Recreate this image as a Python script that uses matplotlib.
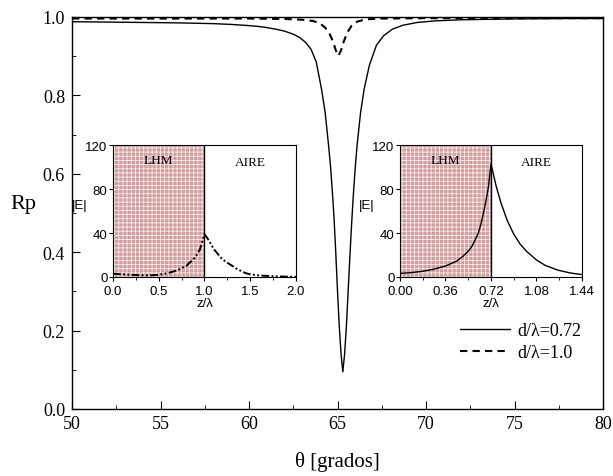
import numpy as np
import matplotlib
matplotlib.use("Agg")
import matplotlib.pyplot as plt
from matplotlib.ticker import MultipleLocator

# Main curves: Rp vs theta
theta_s = [50, 52, 54, 56, 58, 59, 60, 60.5, 61, 61.5, 62, 62.5, 62.85, 63.2, 63.5, 63.8, 64.1, 64.3, 64.5,
           64.6, 64.7, 64.8, 64.9, 65.0, 65.1, 65.2, 65.3, 65.4, 65.5, 65.6, 65.7, 65.8, 65.9, 66.0, 66.1,
           66.3, 66.5, 66.8, 67.2, 67.6, 68.1, 68.7, 69.5, 70.5, 72, 75, 78, 80]
rp_s = [0.988, 0.987, 0.986, 0.985, 0.983, 0.981, 0.978, 0.976, 0.973, 0.969, 0.964, 0.956, 0.948, 0.935,
        0.918, 0.885, 0.815, 0.757, 0.67, 0.622, 0.56, 0.49, 0.40, 0.30, 0.21, 0.14, 0.095, 0.14, 0.21,
        0.30, 0.39, 0.475, 0.55, 0.615, 0.67, 0.755, 0.815, 0.877, 0.928, 0.952, 0.969, 0.979, 0.986,
        0.99, 0.993, 0.995, 0.996, 0.996]

theta_d = [50, 60, 62, 63, 63.6, 64.0, 64.3, 64.55, 64.75, 64.9, 65.05, 65.2, 65.35, 65.55, 65.8, 66.1,
           66.6, 67.5, 70, 80]
rp_d = [0.996, 0.996, 0.995, 0.993, 0.99, 0.984, 0.973, 0.957, 0.937, 0.915, 0.901, 0.915, 0.937, 0.96,
        0.978, 0.988, 0.994, 0.996, 0.997, 0.997]

# Inset 1 (d/lambda = 1.0)
z1 = [0.0, 0.1, 0.2, 0.3, 0.4, 0.5, 0.6, 0.7, 0.8, 0.9, 0.95, 1.0, 1.05, 1.1, 1.19, 1.25, 1.356, 1.45,
      1.5, 1.6, 1.75, 1.9, 2.0]
e1 = [3.0, 2.5, 2.0, 1.6, 1.5, 2.0, 3.5, 6.0, 10.0, 18.0, 25.0, 39.0, 33.0, 25.6, 16.5, 13.0, 7.3, 3.5,
      2.4, 1.4, 0.7, 0.3, 0.2]

# Inset 2 (d/lambda = 0.72)
z2 = [0.0, 0.09, 0.18, 0.27, 0.36, 0.45, 0.5, 0.54, 0.57, 0.6, 0.62, 0.64, 0.66, 0.68, 0.70, 0.72,
      0.76, 0.8, 0.85, 0.9, 0.95, 1.0, 1.08, 1.15, 1.25, 1.35, 1.44]
e2 = [3.3, 4.0, 5.2, 7.2, 10.0, 14.5, 19.0, 23.5, 28.0, 35.0, 40.0, 48.0, 58.0, 69.0, 82.0, 103.0,
      83.0, 67.0, 51.0, 39.0, 30.0, 23.5, 15.5, 10.5, 6.2, 3.6, 2.2]

serif = ['Liberation Serif', 'DejaVu Serif']
sans = ['Liberation Sans', 'DejaVu Sans']
plt.rcParams['hatch.linewidth'] = 0.6

fig = plt.figure(figsize=(6.13, 4.77), dpi=100)
ax = fig.add_axes([0.1175, 0.1405, 0.8662, 0.8218])
ax.plot(theta_s, rp_s, color='black', lw=1.0, label='d/λ=0.72')
ax.plot(theta_d, rp_d, color='black', lw=1.5, ls=(0, (3.5, 2.5)), label='d/λ=1.0')
ax.set_xlim(50, 80)
ax.set_ylim(0, 1.0)
ax.xaxis.set_major_locator(MultipleLocator(5))
ax.xaxis.set_minor_locator(MultipleLocator(2.5))
ax.yaxis.set_major_locator(MultipleLocator(0.2))
ax.yaxis.set_minor_locator(MultipleLocator(0.1))
ax.tick_params(which='both', direction='in', top=False, right=False)
ax.tick_params(which='major', length=6, width=0.8, labelsize=13)
ax.tick_params(axis='x', which='major', pad=4)
ax.tick_params(axis='y', which='major', pad=5)
ax.tick_params(which='minor', length=3, width=0.6)
ax.set_xticklabels([f'{v:g}' for v in ax.get_xticks()], family=serif)
ax.set_yticklabels([f'{v:.1f}' for v in ax.get_yticks()], family=serif)
for s in ax.spines.values():
    s.set_linewidth(1.0)
ax.set_xlabel('θ [grados]', family=serif, fontsize=15, labelpad=14)
ax.set_ylabel('Rp', family=serif, fontsize=16, rotation=0, labelpad=14)
leg = ax.legend(loc='lower right', bbox_to_anchor=(0.99, 0.08), frameon=False,
                prop={'family': serif, 'size': 13}, handlelength=2.8, handletextpad=0.4,
                labelspacing=0.3)


def make_inset(rect, z, e, xmax, dval, xticks, xtl, ls, lw):
    ia = fig.add_axes(rect)
    ia.fill_between([0, dval], 0, 120, facecolor='#d09e9e', edgecolor='#f6eaea', hatch='++++', lw=0)
    ia.axvline(dval, color='black', lw=1.0)
    ia.plot(z, e, color='black', ls=ls, lw=lw)
    ia.set_xlim(0, xmax)
    ia.set_ylim(0, 120)
    ia.set_xticks(xticks)
    ia.set_xticklabels(xtl, family=sans)
    ia.set_xticks([(xticks[i] + xticks[i + 1]) / 2 for i in range(len(xticks) - 1)], minor=True)
    ia.set_yticks([0, 40, 80, 120])
    ia.set_yticklabels(['0', '40', '80', '120'], family=sans)
    ia.tick_params(which='major', direction='out', length=3, labelsize=9.5, pad=1)
    ia.tick_params(axis='x', which='major', pad=2.5)
    ia.tick_params(which='minor', direction='out', length=2)
    ia.set_xlabel('z/λ', family=sans, fontsize=9.5, labelpad=0)
    ia.set_ylabel('|E|', family=sans, fontsize=9.5, rotation=0, labelpad=4)
    ia.text(dval / 2, 112, 'LHM', family=serif, fontsize=9.5, ha='center', va='top')
    ia.text((dval + xmax) / 2, 110, 'AIRE', family=serif, fontsize=9.5, ha='center', va='top')
    return ia


make_inset([0.1843, 0.4172, 0.2985, 0.2767], z1, e1, 2.0, 1.0,
           [0.0, 0.5, 1.0, 1.5, 2.0], ['0.0', '0.5', '1.0', '1.5', '2.0'],
           (0, (4, 1.2, 1, 1.2, 1, 1.2)), 1.4)
make_inset([0.6525, 0.4172, 0.2969, 0.2767], z2, e2, 1.44, 0.72,
           [0.0, 0.36, 0.72, 1.08, 1.44], ['0.00', '0.36', '0.72', '1.08', '1.44'],
           '-', 1.0)

fig.savefig('out.png', dpi=100)
